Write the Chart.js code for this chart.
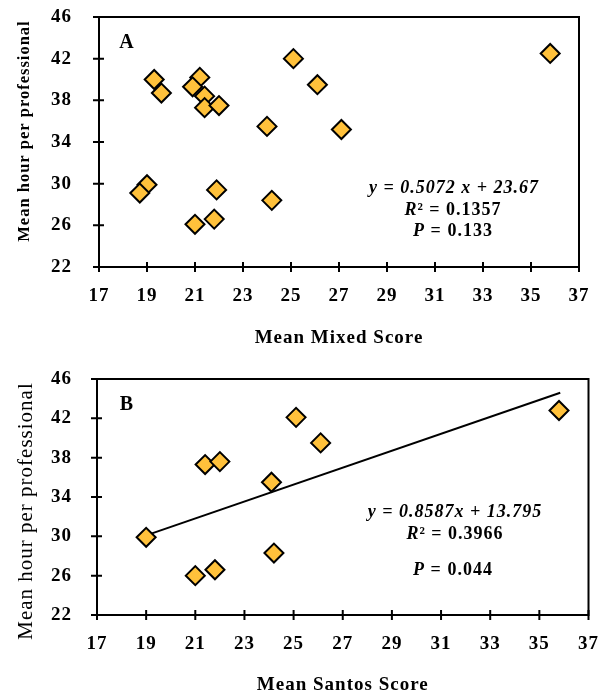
<!DOCTYPE html>
<html>
<head>
<meta charset="utf-8">
<script src="https://cdn.jsdelivr.net/npm/chart.js@4.4.1/dist/chart.umd.min.js"></script>
<style>
  html, body { margin: 0; padding: 0; background: #fff; }
  #wrap { position: relative; width: 600px; height: 695px; }
  canvas { position: absolute; left: 0; }
  #chartA { top: 0; }
  #chartB { top: 350px; }
</style>
</head>
<body>
<div id="wrap">
  <canvas id="chartA" width="600" height="350"></canvas>
  <canvas id="chartB" width="600" height="345"></canvas>
</div>
<script>
// Panel A: mean mixed score vs mean hour per professional
const mixedX = [25.1, 35.8, 19.3, 19.6, 21.2, 20.9, 21.4, 21.4, 22.0, 26.1, 24.0, 27.1, 19.0, 18.7, 21.9, 24.2, 21.0, 21.8];
const mixedY = [42.0, 42.5, 40.0, 38.7, 40.2, 39.3, 38.4, 37.3, 37.5, 39.5, 35.5, 35.2, 29.9, 29.1, 29.4, 28.4, 26.1, 26.6];

// Panel B: mean Santos score vs mean hour per professional
const santosX = [25.1, 35.8, 26.1, 21.4, 22.0, 24.1, 19.0, 24.2, 21.0, 21.8];
const santosY = [42.1, 42.8, 39.5, 37.3, 37.6, 35.5, 29.9, 28.3, 26.0, 26.6];

// trend line ends
const trendX = [19.0, 35.85];
const trendY = [30.1, 44.6];

const xTickValues = [17, 19, 21, 23, 25, 27, 29, 31, 33, 35, 37];
const yTickValues = [22, 26, 30, 34, 38, 42, 46];

const SERIF = '"Liberation Serif", "Times New Roman", serif';
const MARKER = '#FFC13B';

function drawRich(ctx, cx, cy, parts) {
  let total = 0;
  parts.forEach(p => { ctx.font = p.font; p.w = ctx.measureText(p.text).width; total += p.w; });
  let x = cx - total / 2;
  ctx.textBaseline = 'middle';
  ctx.textAlign = 'left';
  ctx.fillStyle = '#000';
  parts.forEach(p => { ctx.font = p.font; ctx.fillText(p.text, x, cy); x += p.w; });
}

// box frame, crossing tick marks, panel letter, y title and equation text
const panelDecor = {
  id: 'panelDecor',
  beforeLayout(chart) { chart.ctx.letterSpacing = '1px'; },
  beforeDraw(chart) { chart.ctx.letterSpacing = '1px'; },
  beforeDatasetsDraw(chart) {
    const { ctx, chartArea: a, scales } = chart;
    ctx.save();
    ctx.strokeStyle = '#000';
    ctx.lineWidth = 2;
    ctx.strokeRect(a.left, a.top, a.right - a.left, a.bottom - a.top);
    ctx.beginPath();
    scales.x.ticks.forEach(t => {
      const px = scales.x.getPixelForValue(t.value);
      ctx.moveTo(px, a.bottom - 5);
      ctx.lineTo(px, a.bottom + 5);
    });
    scales.y.ticks.forEach(t => {
      const py = scales.y.getPixelForValue(t.value);
      ctx.moveTo(a.left - 6, py);
      ctx.lineTo(a.left + 5, py);
    });
    ctx.stroke();
    ctx.restore();
  },
  afterDraw(chart, args, opts) {
    const ctx = chart.ctx;
    ctx.save();
    ctx.letterSpacing = '1px';
    ctx.fillStyle = '#000';
    ctx.textAlign = 'center';
    ctx.textBaseline = 'middle';
    ctx.font = 'bold 20px ' + SERIF;
    ctx.fillText(opts.letter, opts.letterAt[0], opts.letterAt[1]);
    opts.lines.forEach(l => drawRich(ctx, l.at[0], l.at[1], l.parts));
    ctx.translate(opts.yTitleAt[0], opts.yTitleAt[1]);
    ctx.rotate(-Math.PI / 2);
    ctx.font = opts.yTitleFont;
    ctx.textAlign = 'center';
    ctx.fillText('Mean hour per professional', 0, 0);
    ctx.restore();
  }
};

const BI = 'italic bold 18px ' + SERIF;
const B = 'bold 18px ' + SERIF;
const HIDDEN_GRID = { display: true, drawOnChartArea: false, drawTicks: true, color: 'rgba(0,0,0,0)' };

function makeChart(id, xs, ys, cfg) {
  const points = xs.map((x, i) => ({ x: x, y: ys[i] }));
  const datasets = [{
    type: 'scatter',
    data: points,
    pointStyle: 'rectRot',
    pointRadius: 9.5,
    pointBackgroundColor: MARKER,
    pointBorderColor: '#000',
    pointBorderWidth: 2
  }];
  if (cfg.trend) {
    datasets.push({
      type: 'line',
      data: cfg.trend,
      borderColor: '#000',
      borderWidth: 2,
      pointRadius: 0,
      fill: false,
      tension: 0
    });
  }
  return new Chart(document.getElementById(id), {
    type: 'scatter',
    data: { datasets: datasets },
    options: {
      responsive: false,
      animation: false,
      layout: { padding: { top: cfg.padTop, right: cfg.padRight, left: 0, bottom: 0 } },
      plugins: {
        legend: { display: false },
        tooltip: { enabled: false },
        panelDecor: cfg.decor
      },
      scales: {
        x: {
          type: 'linear', min: 17, max: 37,
          afterBuildTicks: s => { s.ticks = xTickValues.map(v => ({ value: v })); },
          afterFit: s => { s.height = cfg.xHeight; },
          grid: Object.assign({ tickLength: 18 }, HIDDEN_GRID),
          border: { display: false },
          ticks: { padding: 0, color: '#000', autoSkip: false, maxRotation: 0,
                   font: { family: SERIF, weight: 'bold', size: 19 } },
          title: { display: true, text: cfg.xTitle, color: '#000',
                   font: { family: SERIF, weight: 'bold', size: 19, lineHeight: 1 },
                   padding: { top: 0, bottom: cfg.xTitlePad } }
        },
        y: {
          type: 'linear', min: 22, max: 46,
          afterBuildTicks: s => { s.ticks = yTickValues.map(v => ({ value: v })); },
          afterFit: s => { s.width = cfg.yWidth; },
          grid: Object.assign({ tickLength: cfg.yTickPad }, HIDDEN_GRID),
          border: { display: false },
          ticks: { padding: 0, color: '#000', autoSkip: false,
                   font: { family: SERIF, weight: 'bold', size: 19 } },
          title: { display: false }
        }
      }
    },
    plugins: [panelDecor]
  });
}

makeChart('chartA', mixedX, mixedY, {
  padTop: 17, padRight: 21, xHeight: 83, yWidth: 99, yTickPad: 27,
  xTitle: 'Mean Mixed Score', xTitlePad: 2.5,
  decor: {
    letter: 'A', letterAt: [127, 43],
    yTitleAt: [25, 131], yTitleFont: 'bold 16.5px ' + SERIF,
    lines: [
      { at: [454, 188], parts: [{ text: 'y = 0.5072 x + 23.67', font: BI }] },
      { at: [453, 210], parts: [{ text: 'R', font: BI }, { text: '²', font: B }, { text: ' = 0.1357', font: B }] },
      { at: [453, 231], parts: [{ text: 'P', font: BI }, { text: ' = 0.133', font: B }] }
    ]
  }
});

makeChart('chartB', santosX, santosY, {
  trend: trendX.map((x, i) => ({ x: x, y: trendY[i] })),
  padTop: 29, padRight: 11, xHeight: 80, yWidth: 97, yTickPad: 25,
  xTitle: 'Mean Santos Score', xTitlePad: 0,
  decor: {
    letter: 'B', letterAt: [127, 55],
    yTitleAt: [26, 161], yTitleFont: 'normal 21px ' + SERIF,
    lines: [
      { at: [455, 162], parts: [{ text: 'y = 0.8587x + 13.795', font: BI }] },
      { at: [455, 184], parts: [{ text: 'R', font: BI }, { text: '²', font: B }, { text: ' = 0.3966', font: B }] },
      { at: [453, 220], parts: [{ text: 'P', font: BI }, { text: ' = 0.044', font: B }] }
    ]
  }
});
</script>
</body>
</html>
